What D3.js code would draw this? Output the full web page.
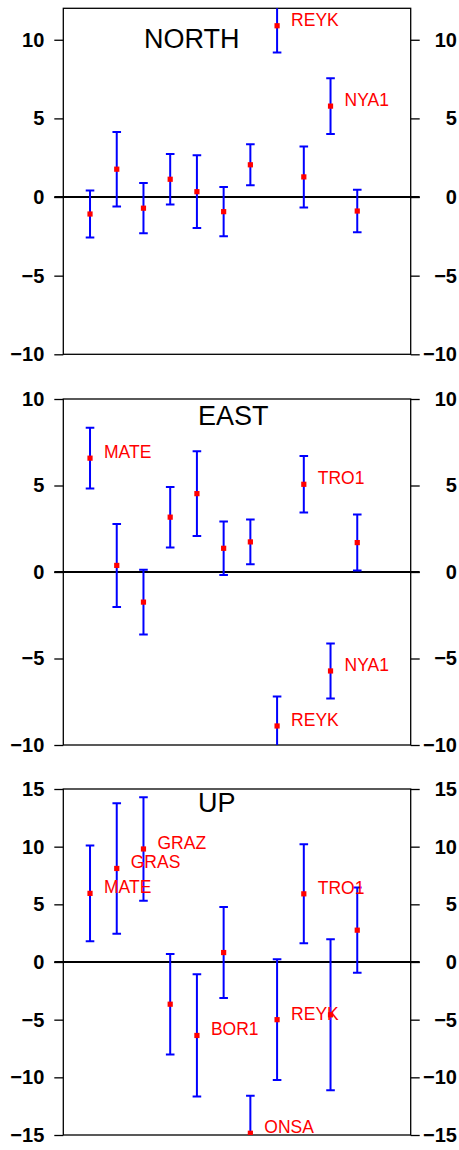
<!DOCTYPE html>
<html>
<head>
<meta charset="utf-8">
<script src="https://cdn.jsdelivr.net/npm/d3@7"></script>
<style>
  html, body { margin: 0; padding: 0; background: #fff; }
  svg { display: block; }
</style>
</head>
<body>
<svg id="chart" width="459" height="1150"></svg>
<script>
// Station slots along the x axis (1..11)
const stationSlots = [1, 2, 3, 4, 5, 6, 7, 8, 9, 10, 11];

// NORTH component: value and one-sigma error per station
const northValues = [-1.08, 1.77, -0.71, 1.13, 0.34, -0.93, 2.05, 10.89, 1.28, 5.78, -0.89];
const northErrors = [1.50, 2.37, 1.60, 1.60, 2.31, 1.57, 1.30, 1.70, 1.94, 1.78, 1.35];
const northLabels = ["", "", "", "", "", "", "", "REYK", "", "NYA1", ""];
const northTicks = [-10, -5, 0, 5, 10];

// EAST component
const eastValues = [6.58, 0.38, -1.74, 3.17, 4.53, 1.37, 1.74, -8.90, 5.07, -5.72, 1.70];
const eastErrors = [1.76, 2.40, 1.87, 1.75, 2.45, 1.55, 1.29, 1.71, 1.63, 1.59, 1.62];
const eastLabels = ["MATE", "", "", "", "", "", "", "REYK", "TRO1", "NYA1", ""];
const eastTicks = [-10, -5, 0, 5, 10];

// UP component
const upValues = [5.95, 8.11, 9.80, -3.66, -6.37, 0.82, -14.85, -5.00, 5.91, -4.58, 2.76];
const upErrors = [4.16, 5.65, 4.48, 4.35, 5.30, 3.95, 3.25, 5.23, 4.29, 6.55, 3.69];
const upLabels = ["MATE", "GRAS", "GRAZ", "", "BOR1", "", "ONSA", "REYK", "TRO1", "", ""];
const upTicks = [-15, -10, -5, 0, 5, 10, 15];

const panels = [
  { title: "NORTH", values: northValues, errors: northErrors, labels: northLabels,
    ticks: northTicks, domain: [-10, 12], top: 8.3, titleX: 144, titleY: 48.3 },
  { title: "EAST", values: eastValues, errors: eastErrors, labels: eastLabels,
    ticks: eastTicks, domain: [-10, 10], top: 399, titleX: 198, titleY: 425 },
  { title: "UP", values: upValues, errors: upErrors, labels: upLabels,
    ticks: upTicks, domain: [-15, 15], top: 789, titleX: 198, titleY: 811.7 }
];

const left = 63.3, right = 410.7, plotH = 346;
const svg = d3.select("#chart");

const x = d3.scaleLinear().domain([0, 13]).range([left, right]);

panels.forEach((p, pi) => {
  const y = d3.scaleLinear().domain(p.domain).range([p.top + plotH, p.top]);
  const g = svg.append("g");

  const clipId = "clip" + pi;
  svg.append("defs").append("clipPath").attr("id", clipId)
    .append("rect").attr("x", left).attr("y", p.top)
    .attr("width", right - left).attr("height", plotH);

  // Left axis
  const la = g.append("g").attr("transform", `translate(${left},0)`)
    .call(d3.axisLeft(y).tickValues(p.ticks).tickSize(9).tickPadding(10).tickFormat(d3.format("d")));
  // Right axis, labels right-aligned near the page edge
  const ra = g.append("g").attr("transform", `translate(${right},0)`)
    .call(d3.axisRight(y).tickValues(p.ticks).tickSize(9).tickFormat(d3.format("d")));
  [la, ra].forEach(a => {
    a.select(".domain").remove();
    a.selectAll(".tick line").attr("stroke", "#000").attr("stroke-width", 1.3);
    a.selectAll(".tick text")
      .attr("fill", "#000")
      .style("font-family", "'Liberation Sans', Arial, sans-serif")
      .style("font-size", "20px")
      .style("font-weight", "bold");
  });
  ra.selectAll(".tick text").attr("text-anchor", "end").attr("x", 457 - right);

  // Frame
  g.append("rect")
    .attr("x", left).attr("y", p.top)
    .attr("width", right - left).attr("height", plotH)
    .attr("fill", "none").attr("stroke", "#000").attr("stroke-width", 1.3);

  // Zero line across plot and ticks
  g.append("line")
    .attr("x1", left - 9).attr("x2", right + 9)
    .attr("y1", y(0)).attr("y2", y(0))
    .attr("stroke", "#000").attr("stroke-width", 2);

  // Title
  g.append("text")
    .attr("x", p.titleX).attr("y", p.titleY)
    .style("font-family", "'Liberation Sans', Arial, sans-serif")
    .style("font-size", "27px")
    .attr("fill", "#000")
    .text(p.title);

  const rows = stationSlots.map((s, i) => ({ s, v: p.values[i], e: p.errors[i], label: p.labels[i] }));
  const marks = g.append("g").attr("clip-path", `url(#${clipId})`);

  // Error bars
  const bars = marks.selectAll("g.bar").data(rows).join("g").attr("class", "bar")
    .attr("stroke", "#0000ff").attr("stroke-width", 2);
  bars.append("line")
    .attr("x1", d => x(d.s)).attr("x2", d => x(d.s))
    .attr("y1", d => y(d.v + d.e)).attr("y2", d => y(d.v - d.e));
  bars.append("line")
    .attr("x1", d => x(d.s) - 4.3).attr("x2", d => x(d.s) + 4.3)
    .attr("y1", d => y(d.v + d.e)).attr("y2", d => y(d.v + d.e));
  bars.append("line")
    .attr("x1", d => x(d.s) - 4.3).attr("x2", d => x(d.s) + 4.3)
    .attr("y1", d => y(d.v - d.e)).attr("y2", d => y(d.v - d.e));

  // Value markers
  marks.selectAll("rect.pt").data(rows).join("rect").attr("class", "pt")
    .attr("x", d => x(d.s) - 2.6).attr("y", d => y(d.v) - 2.6)
    .attr("width", 5.2).attr("height", 5.2)
    .attr("fill", "#ff0000");

  // Station labels
  g.selectAll("text.lbl").data(rows.filter(d => d.label)).join("text").attr("class", "lbl")
    .attr("x", d => x(d.s) + 14).attr("y", d => y(d.v))
    .style("font-family", "'Liberation Sans', Arial, sans-serif")
    .style("font-size", "17.5px")
    .attr("fill", "#ff0000")
    .text(d => d.label);
});
</script>
</body>
</html>
